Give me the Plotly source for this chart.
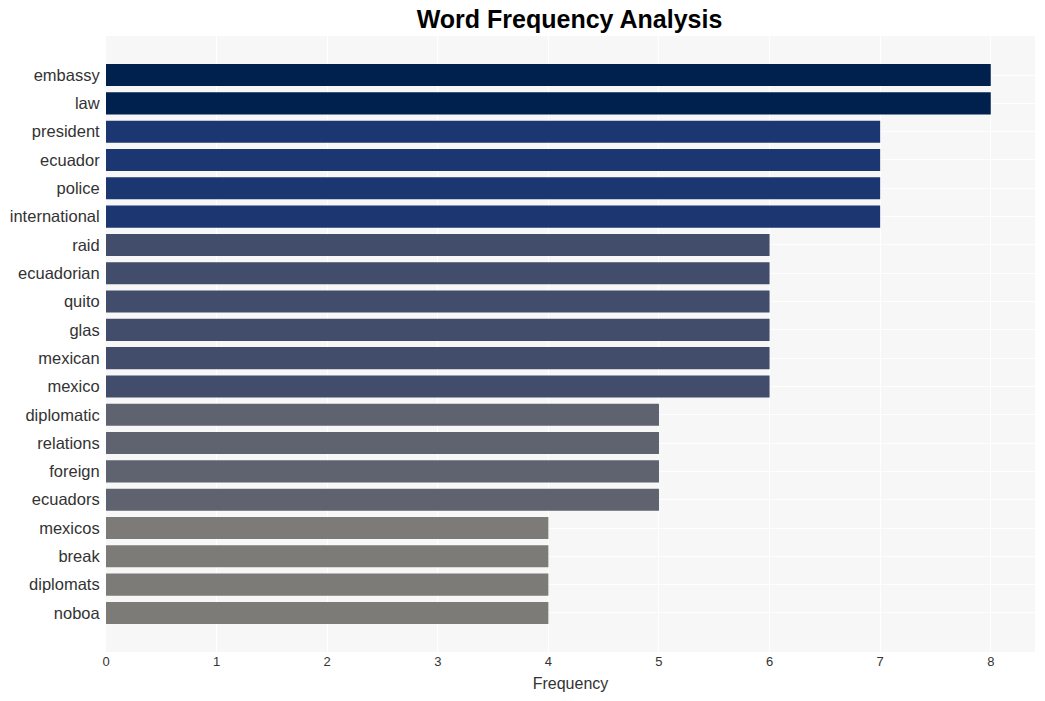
import plotly.graph_objects as go

words = ["embassy", "law", "president", "ecuador", "police", "international",
         "raid", "ecuadorian", "quito", "glas", "mexican", "mexico",
         "diplomatic", "relations", "foreign", "ecuadors",
         "mexicos", "break", "diplomats", "noboa"]
freqs = [8, 8, 7, 7, 7, 7, 6, 6, 6, 6, 6, 6, 5, 5, 5, 5, 4, 4, 4, 4]
color_map = {8: "#00204e", 7: "#1b3670", 6: "#424d6b", 5: "#5f6370", 4: "#7c7b78"}

# plot bottom-up so first word is at top
w = words[::-1]
f = freqs[::-1]
colors = [color_map[v] for v in f]

fig = go.Figure(go.Bar(
    x=f, y=w, orientation="h",
    marker=dict(color=colors, line=dict(width=0)),
    width=0.78,
    hoverinfo="x+y",
))

fig.update_layout(
    width=1045, height=701,
    paper_bgcolor="white",
    plot_bgcolor="#f7f7f7",
    margin=dict(l=106, r=10, t=36, b=49),
    title=dict(text="<b>Word Frequency Analysis</b>", x=0.545, xanchor="center",
               y=0.972, yanchor="middle",
               font=dict(family="Liberation Sans, Arial, sans-serif", size=25, color="black")),
    font=dict(family="Liberation Sans, Arial, sans-serif", color="#333333"),
    showlegend=False,
)
fig.update_xaxes(
    range=[0, 8.4], dtick=1, tick0=0, automargin=False,
    showgrid=True, gridcolor="white", gridwidth=1,
    zeroline=False, showline=False,
    ticks="", tickfont=dict(size=13, color="#333333"),
    title=dict(text="Frequency", font=dict(size=16, color="#333333"), standoff=9),
)
fig.update_yaxes(
    range=[-1.38, 20.38], automargin=False,
    showgrid=True, gridcolor="white", gridwidth=1,
    zeroline=False, showline=False,
    ticks="outside", ticklen=2, tickcolor="rgba(0,0,0,0)",
    tickfont=dict(size=16.5, color="#333333"),
    categoryorder="array", categoryarray=w,
)
fig.write_html("out.html")
